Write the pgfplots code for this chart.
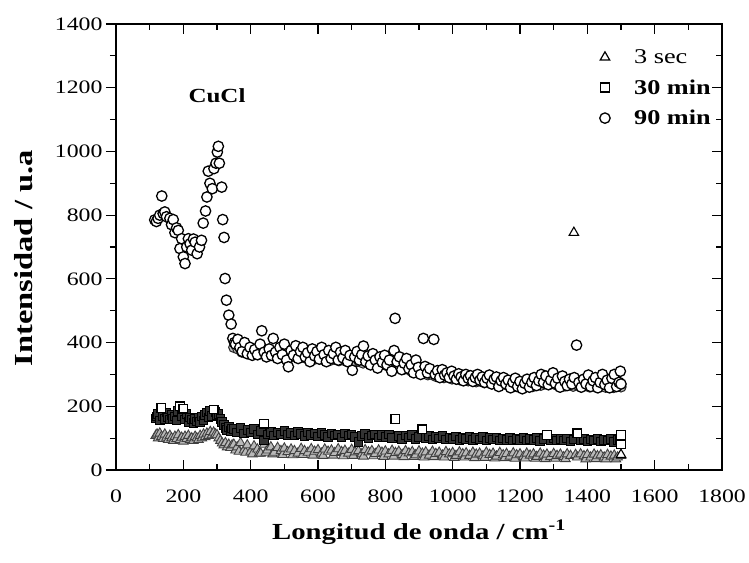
\documentclass[border=0pt]{standalone}
\usepackage{pgfplots}
\pgfplotsset{compat=1.18}
\usepackage{fontspec}
\setmainfont[FakeStretch=1.25]{Liberation Serif}

% 3 sec (triangles)
\pgfplotstableread{
x y
118 108
122 112
125 100
130 115
135 105
140 98
145 112
150 102
155 95
160 108
165 100
170 92
175 105
180 98
185 110
190 95
195 102
200 90
205 105
210 98
215 108
220 95
225 100
230 92
235 105
240 100
245 95
250 108
255 100
260 112
265 104
270 115
275 108
280 120
285 110
290 118
295 112
300 110
305 100
310 92
315 84
320 78
325 85
330 72
335 80
340 70
345 78
350 80
355 62
360 72
365 58
370 85
380 62
385 55
390 78
400 58
405 50
410 75
420 65
425 52
430 52
440 80
445 55
450 62
460 72
465 50
470 55
480 70
490 60
495 48
500 68
510 57
520 65
525 47
530 60
540 52
550 67
555 48
560 60
570 55
580 66
585 46
590 58
600 63
610 52
615 45
620 65
630 58
640 62
645 46
650 54
660 66
670 57
675 44
680 61
690 52
700 64
705 45
710 56
720 60
730 50
735 43
740 63
750 56
760 60
765 44
770 51
780 62
790 55
795 42
800 59
810 50
820 61
825 43
830 54
840 58
850 48
855 41
860 60
870 53
880 57
885 42
890 47
900 59
910 52
915 40
920 56
930 46
940 58
945 41
950 51
960 55
970 46
975 40
980 57
990 50
1000 54
1005 39
1010 45
1020 56
1030 50
1035 40
1040 53
1050 45
1060 55
1065 38
1070 49
1080 52
1090 44
1095 39
1100 55
1110 48
1120 52
1125 37
1130 43
1140 54
1150 47
1155 38
1160 51
1170 43
1180 53
1185 36
1190 47
1200 50
1210 42
1215 37
1220 52
1230 46
1240 50
1245 36
1250 42
1260 52
1270 46
1275 35
1280 49
1290 41
1300 51
1305 36
1310 45
1320 49
1330 41
1335 35
1340 50
1350 45
1365 48
1370 40
1380 50
1390 44
1395 34
1400 48
1410 40
1420 49
1425 35
1430 44
1440 47
1450 40
1455 34
1460 48
1470 43
1480 46
1485 34
1490 40
1500 45
}\tsec

% 30 min (squares)
\pgfplotstableread{
x y
118 162
122 168
125 175
130 155
140 170
145 160
150 180
155 165
160 158
165 172
170 160
175 168
180 155
185 185
195 170
205 158
210 175
215 150
220 165
225 158
230 148
235 160
240 152
245 165
250 150
255 168
260 155
265 172
270 180
275 165
280 185
285 170
295 182
300 172
305 175
310 160
315 150
320 142
325 132
330 125
335 135
340 122
345 130
350 128
360 118
370 132
380 115
390 125
400 118
410 128
420 112
430 122
440 92
450 112
460 120
470 108
480 118
490 112
500 122
510 110
520 116
530 108
540 120
550 113
560 106
570 118
580 110
590 115
600 105
610 117
620 110
630 104
640 115
650 108
660 112
670 102
680 114
690 108
700 112
710 103
720 88
730 106
740 113
750 100
760 108
770 112
780 102
790 109
800 104
810 111
820 100
840 106
850 98
860 108
870 102
880 110
890 98
900 104
920 100
930 106
940 96
950 104
960 99
970 107
980 96
990 102
1000 98
1010 105
1020 95
1030 101
1040 97
1050 104
1060 94
1070 100
1080 96
1090 103
1100 93
1110 100
1120 96
1130 102
1140 92
1150 99
1160 95
1170 101
1180 93
1190 98
1200 94
1210 100
1220 92
1230 97
1240 94
1250 100
1260 91
1270 97
1290 94
1300 99
1310 92
1320 97
1330 93
1340 99
1350 90
1360 96
1380 93
1390 98
1400 90
1410 96
1420 92
1430 98
1440 89
1450 95
1460 92
1470 97
1480 88
1490 94
1495 92
}\tmin

% 30 min, isolated points
\pgfplotstableread{
x y
135 195
190 200
200 192
290 190
440 145
830 160
910 128
1280 110
1370 115
1500 110
1500 80
}\tminout

% 90 min, dense core of the band
\pgfplotstableread{
x y
350 385
362 380
374 370
386 372
398 366
410 368
422 362
434 365
446 361
458 363
470 357
482 360
494 356
506 359
518 354
530 357
542 352
554 355
566 350
578 353
590 348
602 351
614 347
626 350
638 345
650 348
662 343
674 346
686 341
698 344
710 338
722 341
734 336
746 339
758 333
770 336
782 330
794 333
806 327
818 328
830 322
842 323
854 316
866 317
878 310
890 311
902 304
914 306
926 299
938 300
950 294
962 296
974 290
986 292
998 286
1010 288
1022 283
1034 285
1046 280
1058 282
1070 277
1082 279
1094 274
1106 276
1118 271
1130 273
1142 268
1154 270
1166 265
1178 267
1190 262
1202 265
1214 260
1226 264
1238 262
1250 267
1262 266
1274 271
1286 268
1298 272
1310 266
1322 270
1334 264
1346 268
1358 263
1370 267
1382 262
1394 266
1406 261
1418 265
1430 260
1442 264
1454 260
1466 264
1478 259
1490 263
1500 261
}\ncore

% 90 min (circles)
\pgfplotstableread{
x y
115 785
120 780
125 790
130 800
136 860
140 805
145 810
150 795
160 790
165 770
170 786
175 745
180 760
185 752
190 695
195 726
200 669
205 648
210 700
215 726
220 710
225 690
230 725
235 715
241 679
248 700
254 721
259 775
266 813
270 857
274 938
279 900
286 883
291 946
297 963
301 998
304 1016
307 963
314 888
317 786
321 730
324 601
328 533
335 486
342 458
347 413
352 400
355 395
362 410
368 385
375 372
382 400
390 365
398 385
405 360
412 378
420 362
428 395
433 437
440 370
447 355
455 380
462 360
467 413
474 370
480 350
487 385
494 362
500 395
507 345
512 324
520 375
527 360
534 390
541 350
548 372
555 385
562 355
569 368
576 340
583 380
590 358
597 372
604 348
611 385
618 362
625 340
632 375
639 350
646 365
653 385
660 345
667 370
674 352
681 375
688 340
695 360
702 313
709 355
716 372
723 345
730 362
735 389
742 340
749 358
756 330
763 365
770 345
777 320
784 355
791 338
798 360
805 330
812 345
819 310
826 375
829 476
835 340
842 355
849 315
856 335
863 350
870 318
877 330
884 305
891 345
898 322
905 300
913 413
918 325
925 305
932 318
944 410
948 300
955 312
962 290
969 315
976 298
983 305
990 290
997 310
1004 295
1011 285
1018 302
1025 292
1032 280
1039 300
1046 288
1053 296
1060 278
1067 290
1074 300
1081 282
1088 292
1095 275
1102 288
1109 298
1116 270
1123 285
1130 292
1137 262
1144 280
1151 290
1158 270
1165 282
1172 258
1179 275
1186 288
1193 262
1200 278
1207 255
1214 272
1221 285
1228 260
1235 275
1242 290
1249 265
1256 280
1263 300
1270 275
1277 295
1284 268
1291 282
1298 305
1305 272
1312 288
1319 260
1326 295
1333 278
1340 265
1347 285
1354 270
1361 290
1368 392
1375 275
1382 260
1389 285
1396 270
1403 298
1410 262
1417 280
1424 290
1431 258
1438 275
1445 300
1452 268
1459 282
1466 258
1473 288
1480 300
1487 262
1494 275
1498 310
1500 270
}\nmin

\begin{document}
\begin{tikzpicture}
\useasboundingbox (-116pt,-92pt) rectangle (633pt,470pt);
\pgfplotsset{
  common/.style={
    at={(0,0)}, anchor=south west,
    scale only axis, width=606pt, height=446pt,
    xmin=0, xmax=1800, ymin=0, ymax=1400,
    xtick={0,200,...,1800}, ytick={0,200,...,1400},
    minor x tick num=1, minor y tick num=1,
    major tick length=10pt, minor tick length=6pt,
    axis line style={line width=1.5pt},
    every tick/.style={black, line width=1.2pt},
  },
}
\begin{axis}[
  common,
  tick align=inside,
  xtick pos=both,
  ytick pos=right, yticklabel pos=left,
  xticklabel pos=bottom,
  tick label style={font=\fontsize{19}{23}\selectfont},
  /pgf/number format/assume math mode=true,
  /pgf/number format/1000 sep={},
  yticklabel style={xshift=-10pt},
  xticklabel style={yshift=-16pt},
  xlabel={\textbf{Longitud de onda / cm\textsuperscript{-1}}},
  ylabel={\textbf{Intensidad / u.a}},
  xlabel style={font=\fontsize{23}{27}\selectfont,
    at={(axis description cs:0.5,-0.14)}, anchor=center},
  ylabel style={font=\fontsize{26}{30}\selectfont,
    at={(axis description cs:-0.152,0.475)}, anchor=center},
  legend style={draw=none, fill=none, at={(rel axis cs:0.99,0.952)}, anchor=north east,
    font=\fontsize{21}{25}\selectfont, row sep=10.5pt,
    /tikz/every odd column/.append style={column sep=22pt}},
  legend cell align=left,
]
\addlegendimage{only marks, mark=triangle, mark size=5.5pt, black, line width=1.2pt}
\addlegendentry{3 sec}
\addlegendimage{only marks, mark=square, mark size=4.3pt, black, line width=1.5pt}
\addlegendentry{\textbf{30 min}}
\addlegendimage{only marks, mark=o, mark size=5.2pt, black, line width=1.3pt}
\addlegendentry{\textbf{90 min}}

\addplot[forget plot, only marks, mark=triangle*, mark size=5.5pt,
  mark options={draw=gray!50!black, fill=gray!55, line width=0.9pt}] table {\tsec};
\addplot[forget plot, only marks, mark=triangle*, mark size=5.5pt,
  mark options={draw=black, fill=white, line width=1.1pt}] coordinates {(1360,745) (1500,48)};
\addplot[forget plot, only marks, mark=square*, mark size=4.3pt,
  mark options={draw=black, fill=gray!40!black, line width=1pt}] table {\tmin};
\addplot[forget plot, only marks, mark=square*, mark size=4.3pt,
  mark options={draw=black, fill=white, line width=1.3pt}] table {\tminout};
\addplot[forget plot, only marks, mark=*, mark size=5.2pt,
  mark options={draw=gray!30!black, fill=gray!55, line width=1pt}] table {\ncore};
\addplot[forget plot, only marks, mark=*, mark size=5.2pt,
  mark options={draw=black, fill=white, line width=1.3pt}] table {\nmin};

\node[font=\bfseries\fontsize{20}{24}\selectfont] at (axis cs:300,1175) {CuCl};
\end{axis}
\begin{axis}[
  common,
  tick align=outside,
  axis y line*=left, hide x axis,
  yticklabels={},
]
\addplot[draw=none, forget plot] coordinates {(0,0)};
\end{axis}
\end{tikzpicture}
\end{document}
